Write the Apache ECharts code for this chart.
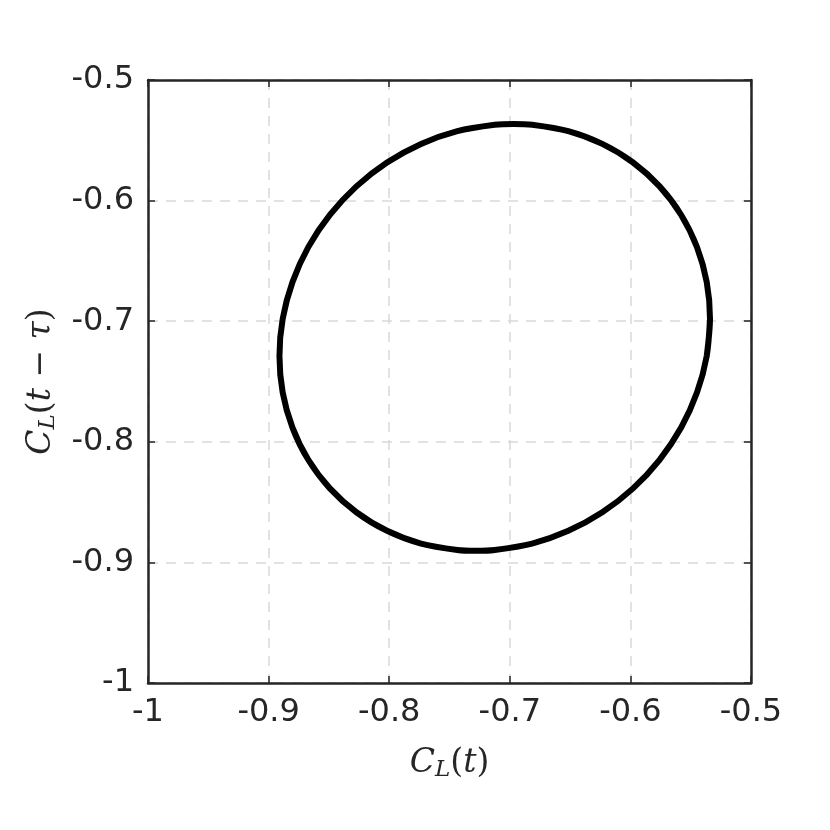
<!DOCTYPE html>
<html>
<head>
<meta charset="utf-8">
<script src="https://cdn.jsdelivr.net/npm/echarts@6/dist/echarts.min.js"></script>
<style>
html,body{margin:0;padding:0;background:#fff;}
#chart{width:830px;height:830px;}
</style>
</head>
<body>
<div id="chart"></div>
<script>
// Tick values
var xTicks = [-1, -0.9, -0.8, -0.7, -0.6, -0.5];
var yTicks = [-1, -0.9, -0.8, -0.7, -0.6, -0.5];
// Phase-portrait loop: C_L(t) and C_L(t - tau)
var clT = [-0.5340, -0.5367, -0.5448, -0.5579, -0.5758, -0.5978, -0.6233, -0.6515, -0.6815, -0.7125,
           -0.7281, -0.7435, -0.7736, -0.8018, -0.8272, -0.8492, -0.8671, -0.8802, -0.8883, -0.8910,
           -0.8883, -0.8802, -0.8671, -0.8492, -0.8272, -0.8018, -0.7736, -0.7435, -0.7125, -0.6969,
           -0.6815, -0.6515, -0.6233, -0.5978, -0.5758, -0.5579, -0.5448, -0.5367, -0.5340, -0.5367];
var clTau = [-0.6980, -0.7288, -0.7592, -0.7882, -0.8149, -0.8386, -0.8584, -0.8738, -0.8844, -0.8897,
             -0.8904, -0.8897, -0.8844, -0.8738, -0.8584, -0.8386, -0.8149, -0.7882, -0.7592, -0.7288,
             -0.6980, -0.6676, -0.6386, -0.6119, -0.5882, -0.5684, -0.5530, -0.5424, -0.5371, -0.5364,
             -0.5371, -0.5424, -0.5530, -0.5684, -0.5882, -0.6119, -0.6386, -0.6676, -0.6980, -0.7288];

var pts = clT.map(function (v, i) { return [v, clTau[i]]; });

var chart = echarts.init(document.getElementById('chart'));
var axisColor = '#262626';
var fmt = function (v) { return Math.abs(v + 1) < 1e-9 ? '-1' : (Math.round(v * 10) / 10).toString(); };
var labelStyle = { color: axisColor, fontSize: 32, fontFamily: 'DejaVu Sans' };
var richName = {
  i: { fontFamily: 'DejaVu Serif', fontStyle: 'italic', fontSize: 33, color: axisColor },
  r: { fontFamily: 'DejaVu Serif', fontSize: 33, color: axisColor },
  sub: { fontFamily: 'DejaVu Serif', fontStyle: 'italic', fontSize: 23, color: axisColor, verticalAlign: 'bottom', padding: [14, 0, 0, 0] }
};
var gridLine = { show: true, lineStyle: { color: '#d9d9d9', width: 1.5, type: [10, 8] } };
var tickStyle = { show: true, inside: true, length: 7, lineStyle: { color: axisColor, width: 1.5 } };
var lineStyleAxis = { show: true, onZero: false, lineStyle: { color: axisColor, width: 2.5 } };

chart.setOption({
  animation: false,
  backgroundColor: '#ffffff',
  grid: { left: 148, top: 80, width: 603, height: 603, containLabel: false },
  xAxis: [{
    type: 'value', min: -1, max: -0.5, interval: 0.1, position: 'bottom',
    axisLine: lineStyleAxis, axisTick: tickStyle,
    axisLabel: Object.assign({ margin: 14, formatter: fmt }, labelStyle),
    splitLine: gridLine,
    name: '{i|C}{sub|L}{r|(}{i|t}{r|)}',
    nameLocation: 'middle', nameGap: 62,
    nameTextStyle: { rich: richName }
  }, {
    type: 'value', min: -1, max: -0.5, interval: 0.1, position: 'top',
    axisLine: lineStyleAxis, axisTick: tickStyle,
    axisLabel: { show: false }, splitLine: { show: false }
  }],
  yAxis: [{
    type: 'value', min: -1, max: -0.5, interval: 0.1, position: 'left',
    axisLine: lineStyleAxis, axisTick: tickStyle,
    axisLabel: Object.assign({ margin: 14, formatter: fmt }, labelStyle),
    splitLine: gridLine,
    name: '{i|C}{sub|L}{r|(}{i|t}{r| − }{i|τ}{r|)}',
    nameLocation: 'middle', nameGap: 88, nameRotate: 90,
    nameTextStyle: { rich: richName }
  }, {
    type: 'value', min: -1, max: -0.5, interval: 0.1, position: 'right',
    axisLine: lineStyleAxis, axisTick: tickStyle,
    axisLabel: { show: false }, splitLine: { show: false }
  }],
  series: [{
    type: 'line',
    xAxisIndex: 0, yAxisIndex: 0,
    data: pts,
    smooth: 0.3,
    showSymbol: false,
    lineStyle: { color: '#000000', width: 6 },
    z: 5
  }]
});
</script>
</body>
</html>
